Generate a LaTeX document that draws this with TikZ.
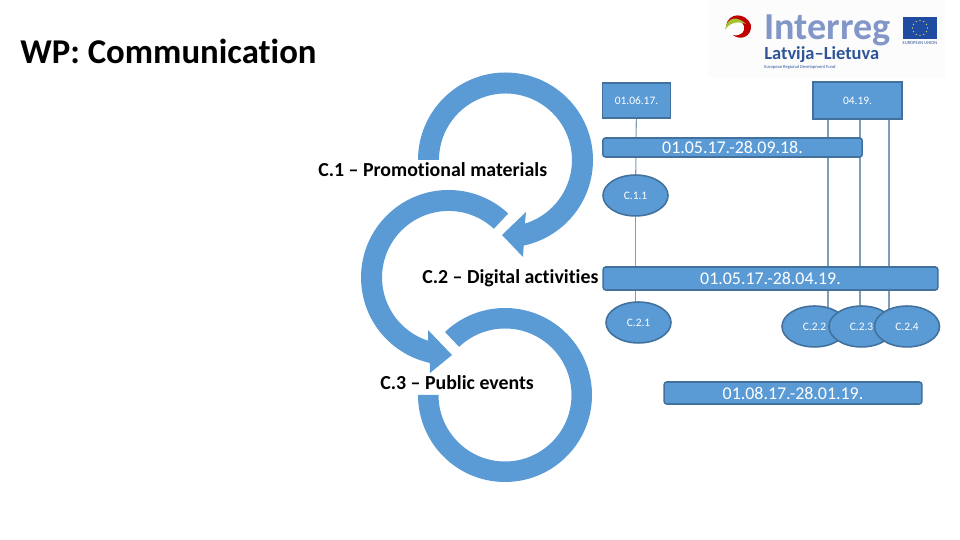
\documentclass[tikz,border=0pt]{standalone}
\usepackage{fontspec}
\setmainfont[Ligatures=NoCommon]{Carlito}
\usetikzlibrary{backgrounds,shapes.geometric}
\definecolor{wpblue}{HTML}{5B9BD5}
\definecolor{wpedge}{HTML}{41719C}
\definecolor{wpline}{HTML}{7F9DB9}
\definecolor{irblue}{HTML}{2F5597}
\definecolor{irpale}{HTML}{8296C8}
\definecolor{euflag}{HTML}{1F4CA0}
\tikzset{
  bigarrow/.style={fill=wpblue, draw=none},
  datebox/.style={draw=wpedge, line width=0.9pt, fill=wpblue, text=white, inner sep=0pt,
    font=\fontsize{6.5}{7}\selectfont},
  datebar/.style={draw=wpedge, line width=0.9pt, fill=wpblue, text=white, rounded corners=1.5pt,
    inner sep=0pt, font=\fontsize{10.2}{11}\selectfont},
  taskoval/.style={ellipse, draw=wpedge, line width=0.9pt, fill=wpblue, text=white, inner sep=0pt,
    minimum width=37pt, minimum height=23.3pt, font=\fontsize{6.5}{7}\selectfont},
  tasklabel/.style={inner sep=0pt, font=\bfseries\fontsize{11.3}{13}\selectfont},
  link/.style={draw=wpline, line width=0.6pt}
}
\begin{document}
\begin{tikzpicture}[x=0.02cm, y=0.02cm]
  \useasboundingbox (0,0) rectangle (960,540);

  % Title
  \node[anchor=west, inner sep=0pt, font=\bfseries\fontsize{19.8}{22}\selectfont] (title) at (20,489) {WP: Communication};

  % Logo
  \fill[black!1] (708,462) rectangle (945,540);
  \fill[red!75!black] (726,514) .. controls (728,528) and (746,528) .. (751,515)
    .. controls (752,503) and (740,499) .. (733,505) .. controls (741,503) and (746,509) .. (744,514)
    .. controls (741,522) and (732,520) .. cycle;
  \fill[yellow!70!green!85!black] (725,510) .. controls (727,524) and (738,524) .. (746,516)
    .. controls (738,519) and (730,518) .. cycle;
  \node[anchor=west, inner sep=0pt, text=irpale, font=\bfseries\fontsize{21.7}{23}\selectfont] (interreg) at (764,510) {Interreg};
  \node[anchor=west, inner sep=0pt, text=irblue, font=\bfseries\fontsize{10.5}{12}\selectfont] (country) at (764,485) {Latvija–Lietuva};
  \node[anchor=west, inner sep=0pt, text=irblue, font=\fontsize{2.6}{3}\selectfont] (fund) at (764,473) {European Regional Development Fund};
  \fill[euflag] (903,501) rectangle (937,523);
  \foreach \ang in {0,30,...,330} {
    \fill[yellow!60!white] (920,512) ++(\ang:7.5) circle (0.6);
  }
  \node[anchor=north, inner sep=0pt, text=irblue, font=\fontsize{2.6}{3}\selectfont] (eu) at (920,499) {EUROPEAN UNION};

  % Big arrows
  \path[bigarrow] (418,380) arc (180:-78:87.5) -- (523,283) -- (502,305) -- (526,328) -- (524.9,316.4)
    arc (-73:180:66.5) -- cycle;
  \path[bigarrow] (508.2,326.5) arc (47:257.6:87.5) -- (430,167) -- (452,185) -- (428,210) -- (428,199.3)
    arc (252:47:66.5) -- cycle;
  \path[bigarrow] (445,208) arc (133.6:-180:87) -- (438.5,145) arc (-180:133.6:66.5) -- cycle;

  % Labels of the arrows
  \node[tasklabel, anchor=west] (lab1) at (318,370) {C.1 – Promotional materials};
  \node[tasklabel, anchor=west] (lab2) at (422,262) {C.2 – Digital activities};
  \node[tasklabel, anchor=west] (lab3) at (380,157) {C.3 – Public events};

  % Top boxes
  \node[datebox, minimum width=38.7pt, minimum height=19.9pt] (box1) at (636.5,439.5) {01.06.17.};
  \node[datebox, minimum width=50.6pt, minimum height=21pt] (box2) at (857.5,439.5) {04.19.};

  % Bars with the dates
  \node[datebar, minimum width=147.6pt, minimum height=10.8pt] (bar1) at (732.5,392.5) {01.05.17.-28.09.18.};
  \node[datebar, minimum width=190.5pt, minimum height=13.1pt] (bar2) at (770.5,261.5) {01.05.17.-28.04.19.};
  \node[datebar, minimum width=146.7pt, minimum height=12.5pt] (bar3) at (793,147) {01.08.17.-28.01.19.};

  % Tasks
  \node[taskoval] (c11) at (635.5,344.5) {C.1.1};
  \node[taskoval] (c21) at (638.5,217.5) {C.2.1};
  \node[taskoval] (c22) at (814.5,213.5) {C.2.2};
  \node[taskoval] (c23) at (861.5,213.5) {C.2.3};
  \node[taskoval] (c24) at (907,213.5) {C.2.4};

  % Vertical lines, behind everything
  \coordinate (top22) at (828,421);
  \coordinate (top23) at (860,421);
  \coordinate (top24) at (889,421);
  \begin{scope}[on background layer]
    \draw[link] (box1) -- (c11);
    \draw[link] (c11) -- (c11 |- c21);
    \draw[link] (top22) -- (top22 |- c22);
    \draw[link] (top23) -- (top23 |- c23);
    \draw[link] (top24) -- (top24 |- c24);
  \end{scope}
\end{tikzpicture}
\end{document}
